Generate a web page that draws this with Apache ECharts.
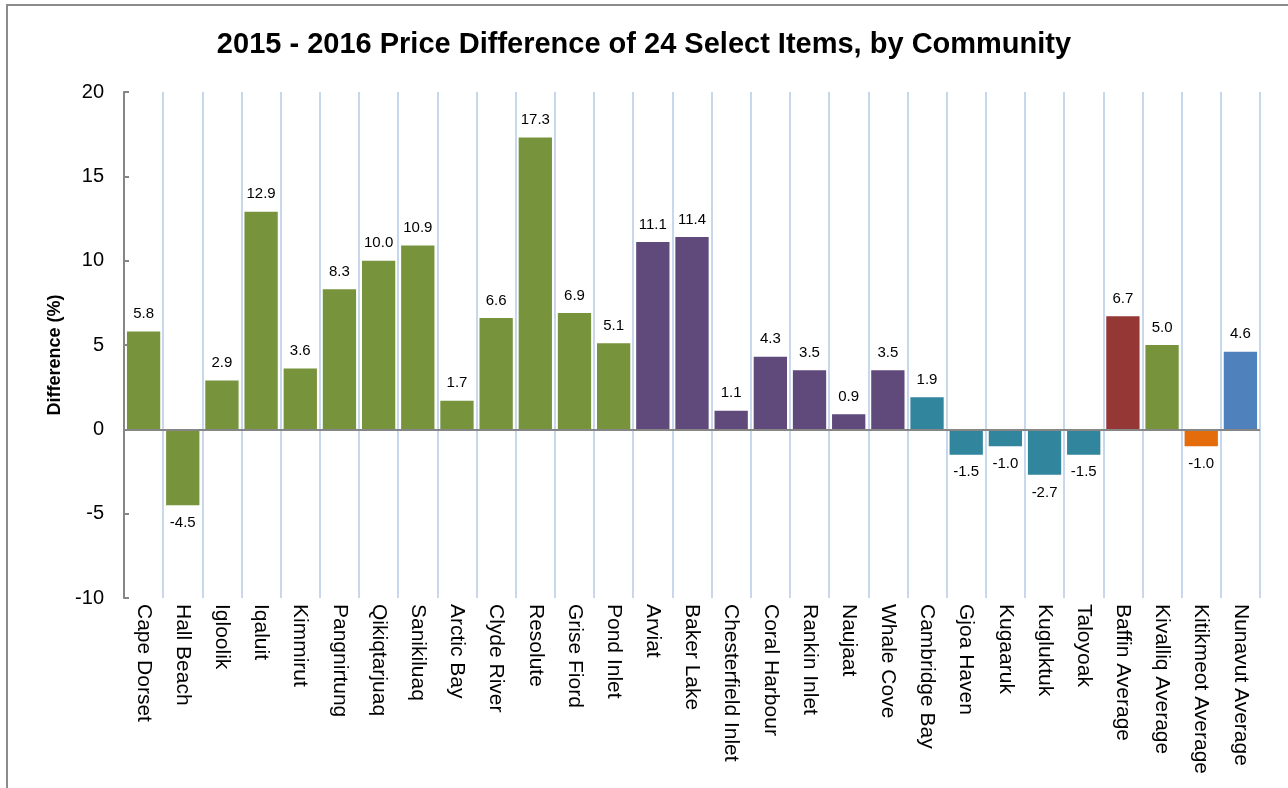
<!DOCTYPE html>
<html>
<head>
<meta charset="utf-8">
<script src="https://cdn.jsdelivr.net/npm/echarts@6/dist/echarts.min.js"></script>
<style>
html,body{margin:0;padding:0;background:#fff;}
#chart{width:1288px;height:788px;}
</style>
</head>
<body>
<div id="chart"></div>
<script>
const categories = ['Cape Dorset','Hall Beach','Igloolik','Iqaluit','Kimmirut','Pangnirtung','Qikiqtarjuaq','Sanikiluaq','Arctic Bay','Clyde River','Resolute','Grise Fiord','Pond Inlet','Arviat','Baker Lake','Chesterfield Inlet','Coral Harbour','Rankin Inlet','Naujaat','Whale Cove','Cambridge Bay','Gjoa Haven','Kugaaruk','Kugluktuk','Taloyoak','Baffin Average','Kivalliq Average','Kitikmeot Average','Nunavut Average'];
const values = [5.8,-4.5,2.9,12.9,3.6,8.3,10.0,10.9,1.7,6.6,17.3,6.9,5.1,11.1,11.4,1.1,4.3,3.5,0.9,3.5,1.9,-1.5,-1.0,-2.7,-1.5,6.7,5.0,-1.0,4.6];
const groups = ['Baffin','Baffin','Baffin','Baffin','Baffin','Baffin','Baffin','Baffin','Baffin','Baffin','Baffin','Baffin','Baffin','Kivalliq','Kivalliq','Kivalliq','Kivalliq','Kivalliq','Kivalliq','Kivalliq','Kitikmeot','Kitikmeot','Kitikmeot','Kitikmeot','Kitikmeot','BaffinAvg','KivalliqAvg','KitikmeotAvg','NunavutAvg'];
const yTicks = {min:-10, max:20, interval:5};

const groupColors = {
  Baffin:'#77933C', Kivalliq:'#604A7B', Kitikmeot:'#31859C',
  BaffinAvg:'#953735', KivalliqAvg:'#77933C', KitikmeotAvg:'#E46C0A', NunavutAvg:'#4F81BD'
};
const FONT = '"Liberation Sans", Arial, sans-serif';

const chart = echarts.init(document.getElementById('chart'));
const data = values.map((v,i)=>({
  value:v,
  itemStyle:{color:groupColors[groups[i]]},
  label:{position: v<0 ? 'bottom' : 'top'}
}));

chart.setOption({
  backgroundColor:'#fff',
  animation:false,
  title:{
    text:'2015 - 2016 Price Difference of 24 Select Items, by Community',
    left:'center', top:25,
    textStyle:{fontFamily:FONT, fontSize:29, fontWeight:'bold', color:'#000'}
  },
  graphic:[{
    type:'polyline',
    shape:{points:[[7,788],[7,5],[1288,5]]},
    style:{stroke:'#8c8c8c', lineWidth:2, fill:null},
    silent:true
  }],
  grid:{left:124, right:28, top:92, bottom:190, containLabel:false},
  xAxis:{
    type:'category',
    data:categories,
    position:'bottom',
    axisLine:{show:false, onZero:false},
    axisTick:{show:false},
    splitLine:{show:true, lineStyle:{color:'#C7D7EC', width:2}},
    axisLabel:{interval:0, rotate:-90, fontFamily:FONT, fontSize:21, color:'#000', margin:6}
  },
  yAxis:{
    type:'value',
    min:yTicks.min, max:yTicks.max, interval:yTicks.interval,
    name:'Difference (%)',
    nameLocation:'middle',
    nameGap:60,
    nameTextStyle:{fontFamily:FONT, fontSize:18, fontWeight:'bold', color:'#000', padding:[0,20,0,0]},
    axisLine:{show:true, lineStyle:{color:'#868686', width:2}},
    axisTick:{show:true, inside:true, length:5, lineStyle:{color:'#868686', width:2}},
    splitLine:{show:false},
    axisLabel:{fontFamily:FONT, fontSize:20, color:'#000', margin:20}
  },
  series:[{
    type:'bar',
    data:data,
    barCategoryGap:'15%',
    label:{
      show:true, distance:10,
      fontFamily:FONT, fontSize:15, color:'#000',
      formatter:p=>p.value.toFixed(1)
    },
    markLine:{
      silent:true,
      symbol:['none','none'],
      label:{show:false},
      lineStyle:{color:'#868686', width:2, type:'solid'},
      data:[{yAxis:0}]
    }
  }]
});
</script>
</body>
</html>
